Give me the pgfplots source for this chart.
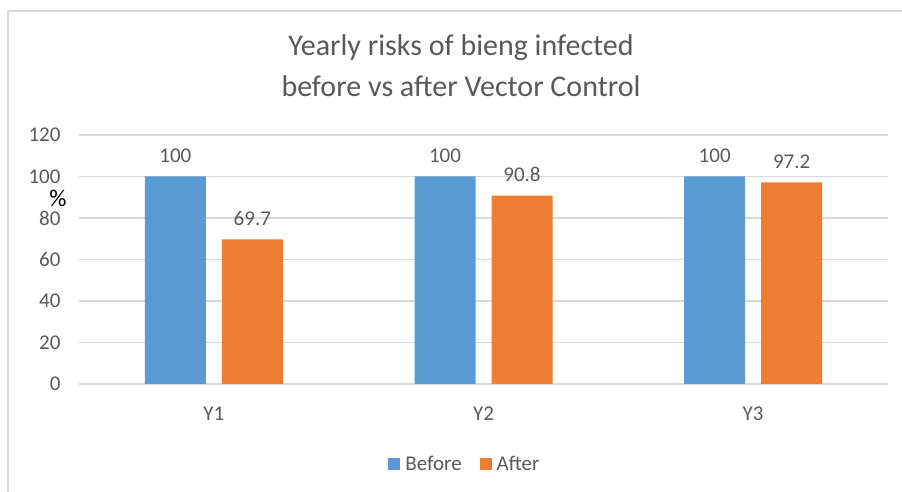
\documentclass[border=0pt]{standalone}
\usepackage{fontspec}
\setmainfont{Carlito}
\usepackage{pgfplots}
\pgfplotsset{compat=1.18}
\definecolor{cblue}{HTML}{5B9BD5}
\definecolor{corange}{HTML}{ED7D31}
\definecolor{txt}{HTML}{595959}
\definecolor{gridc}{HTML}{D9D9D9}
\begin{document}
\begin{tikzpicture}[x=1pt,y=1pt]
\path[use as bounding box] (0,0) rectangle (902,492);
\draw[gridc, line width=1.5pt] (8,0) -- (8,481) -- (902,481);
\node[txt, font=\fontsize{30}{34}\selectfont] at (461,444) {Yearly risks of bieng infected};
\node[txt, font=\fontsize{30}{34}\selectfont] at (461,406) {before vs after Vector Control};
\node[black, font=\fontsize{24}{28}\selectfont] at (58,294) {\%};
\begin{axis}[
  at={(79pt,108pt)}, anchor=south west, scale only axis,
  width=809pt, height=249pt,
  ybar=16pt, bar width=61pt,
  ymin=0, ymax=120, ytick={0,20,...,120},
  xmin=-0.5, xmax=2.5, xtick={0,1,2}, xticklabels={Y1,Y2,Y3},
  axis x line*=bottom, axis y line*=left,
  x axis line style={draw=gridc, line width=1.5pt, -},
  y axis line style={draw=none},
  major tick length=0pt,
  ymajorgrids, grid style={gridc, line width=1.2pt},
  /pgf/number format/assume math mode=true,
  tick label style={txt, font=\fontsize{21}{25}\selectfont},
  yticklabel style={xshift=-15pt},
  xticklabel style={yshift=-19pt},
  nodes near coords,
  nodes near coords style={txt, font=\fontsize{21}{25}\selectfont, yshift=10pt, /pgf/number format/assume math mode=true},
  legend style={at={(0.477,-0.321)}, anchor=center, draw=none, fill=none,
    legend columns=2, font=\fontsize{21}{25}\selectfont, text=txt,
    /tikz/every odd column/.append style={column sep=3pt},
    /tikz/every even column/.append style={column sep=16pt}},
  legend image code/.code={\fill[#1, draw=none] (0pt,-6pt) rectangle (12pt,6pt);},
]
\addplot[fill=cblue, draw=none] coordinates {(0,100) (1,100) (2,100)};
\addplot[fill=corange, draw=none] coordinates {(0,69.7) (1,90.8) (2,97.2)};
\legend{Before, After}
\end{axis}
\end{tikzpicture}
\end{document}
